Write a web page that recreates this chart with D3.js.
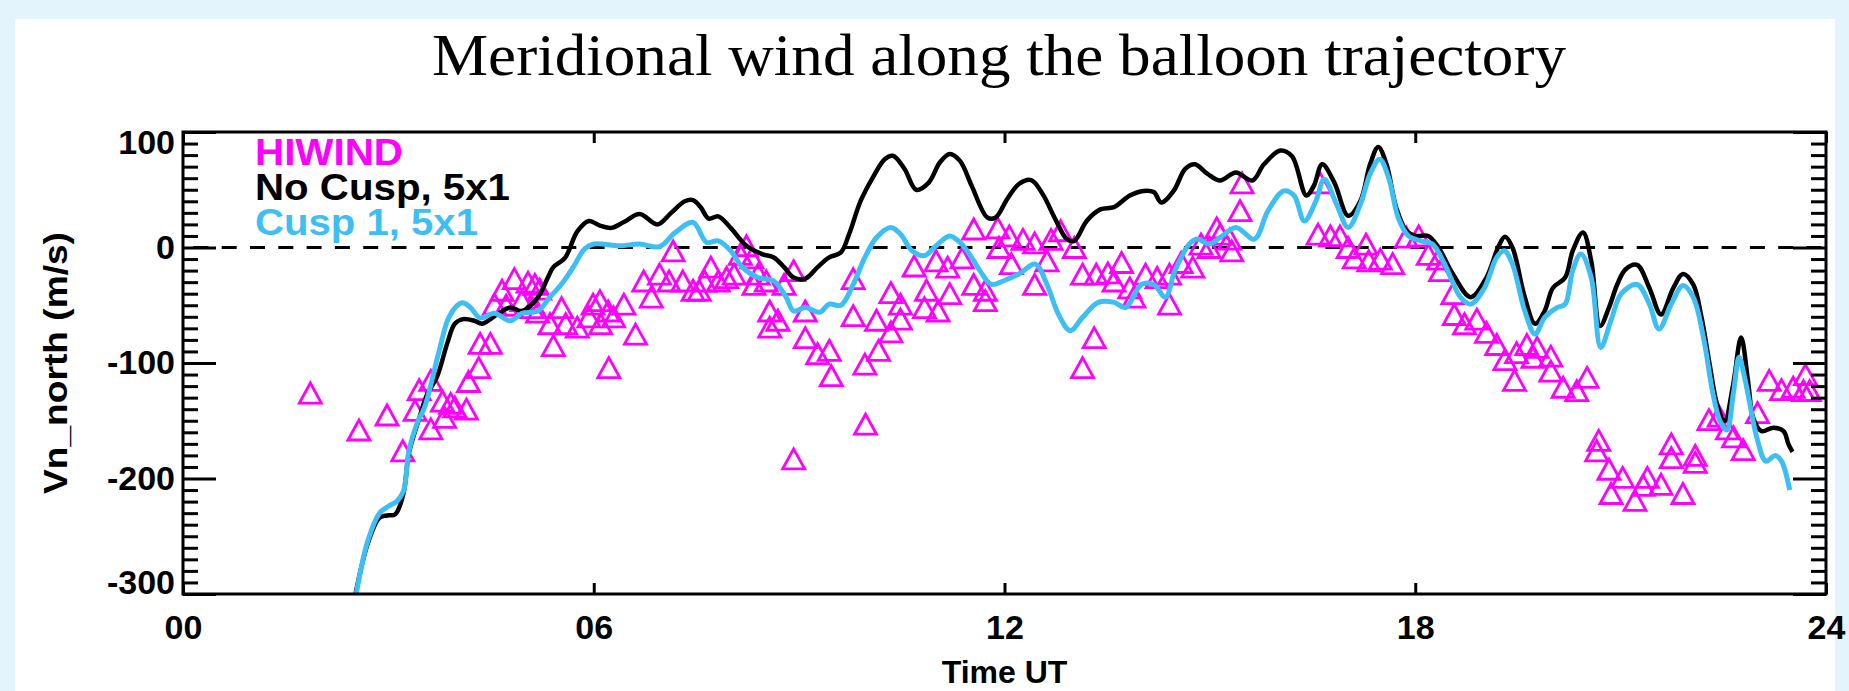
<!DOCTYPE html>
<html><head><meta charset="utf-8">
<script src="https://cdn.jsdelivr.net/npm/d3@7"></script>
<style>body{margin:0;background:#e3f4fc;} svg{display:block}</style>
</head><body>
<svg id="chart" width="1849" height="691"></svg>
<script>
// ---- data (hours UT, m/s) ----
const noCuspTime = [2.52,2.70,2.87,2.98,3.10,3.22,3.30,3.45,3.56,3.71,3.86,3.97,4.09,4.26,4.37,4.60,4.78,4.95,5.18,5.33,5.41,5.58,5.76,5.93,6.09,6.26,6.44,6.67,6.93,7.13,7.33,7.45,7.56,7.68,7.82,8.00,8.23,8.46,8.63,8.78,8.92,9.09,9.27,9.44,9.61,9.73,9.90,10.08,10.25,10.37,10.54,10.71,10.89,11.06,11.20,11.35,11.52,11.75,11.87,12.04,12.21,12.39,12.56,12.73,12.91,13.02,13.20,13.40,13.60,13.83,14.03,14.18,14.29,14.47,14.64,14.78,14.96,15.15,15.38,15.62,15.79,16.03,16.20,16.41,16.52,16.64,16.82,17.02,17.20,17.34,17.46,17.58,17.72,17.87,18.02,18.19,18.34,18.55,18.81,19.04,19.22,19.31,19.42,19.60,19.75,19.89,20.01,20.19,20.30,20.45,20.57,20.70,20.83,20.95,21.07,21.24,21.42,21.59,21.77,21.91,22.06,22.18,22.30,22.41,22.52,22.64,22.76,22.86,22.94,23.06,23.23,23.38,23.45,23.51];
const noCuspWind = [-300,-256,-234,-232,-231,-213,-178,-148,-128,-112,-83,-66,-62,-63.5,-66,-57.5,-52,-55,-43.5,-26,-17,-9,14,23,19,17,22,29,20,30,40,41,35,25,27,17,1.5,-5.7,-8.6,-17,-26,-27,-17,-8.6,-4.3,11.6,40.5,61,76.5,79.4,68,50,56,74,81,75,53.5,26,26,42,55,58.4,46,26,7.3,5.8,23,33,35,45,49,48,39,49,68,72,64,58,65,58,72,84,79,45,53.5,72,56,27.5,40.5,72,87,72,35,14.5,10,10,0,-23,-43,-26,1.5,9.3,0,-43,-66,-55,-35,-26,-3,13,-11.5,-68,-52,-32,-19,-15,-35,-58,-35,-23,-32,-60,-101,-136,-150,-120,-78,-115,-148,-159,-156,-159,-170,-177];
const cuspTime = [2.53,2.70,2.87,3.00,3.12,3.22,3.30,3.42,3.53,3.74,3.88,4.03,4.10,4.20,4.34,4.55,4.78,4.95,5.18,5.36,5.53,5.70,5.87,6.00,6.38,6.67,6.96,7.19,7.45,7.65,7.82,8.00,8.17,8.40,8.63,8.81,8.92,9.09,9.30,9.44,9.61,9.79,9.96,10.13,10.34,10.48,10.65,10.83,11.00,11.20,11.35,11.52,11.64,11.81,11.98,12.21,12.45,12.62,12.79,12.96,13.14,13.37,13.60,13.77,14.00,14.18,14.35,14.49,14.70,14.81,14.99,15.15,15.38,15.65,15.85,16.08,16.23,16.38,16.55,16.67,16.85,17.02,17.20,17.34,17.48,17.61,17.75,17.90,18.08,18.25,18.43,18.66,18.81,19.01,19.19,19.30,19.42,19.60,19.75,19.89,20.07,20.19,20.30,20.42,20.57,20.71,20.86,21.01,21.24,21.42,21.56,21.74,21.91,22.06,22.21,22.35,22.45,22.55,22.65,22.73,22.82,22.88,23.00,23.12,23.26,23.35,23.47];
const cuspWind = [-300,-254,-230,-224,-220,-211,-176,-152,-138,-90,-61,-49,-48,-52,-61,-57,-63.5,-57,-55,-43,-31.6,-17,-1,3,1.5,3,0.7,13,21.7,4.4,5.8,-2.8,-17,-26,-29,-43,-55,-52,-56,-49,-50,-32,-8.6,8.7,17.4,11.6,-2.8,-7,1.5,10,4.4,-8.6,-20,-32,-29,-23,-14.4,-32,-58,-72,-60.5,-47.5,-47.5,-52,-32,-32,-43,-20,3,7.3,3,8.7,17.4,7.3,32,49,45,23,40.5,59,37.6,17.4,37.6,63.6,76.5,60.7,26,10,5.8,3,-14.4,-43,-49,-35,-8.6,-2.8,-14.4,-55,-75,-60.5,-52,-49,-20,-5.7,-26,-86.5,-63,-40,-32,-49,-70.6,-49,-33,-43,-78,-127,-150,-158,-125,-95,-115,-133,-167,-185,-180,-185,-210];
const hiwindTime = [1.86,2.57,2.98,3.21,3.39,3.45,3.62,3.62,3.79,3.82,3.91,3.97,4.14,4.17,4.32,4.34,4.49,4.55,4.66,4.72,4.84,4.95,5.04,5.10,5.14,5.18,5.21,5.36,5.41,5.53,5.59,5.76,5.93,5.99,6.09,6.10,6.21,6.22,6.29,6.44,6.61,6.73,6.84,6.96,7.10,7.16,7.30,7.45,7.54,7.62,7.71,7.82,7.94,8.05,8.14,8.23,8.31,8.34,8.40,8.52,8.57,8.57,8.69,8.78,8.92,8.92,9.09,9.09,9.27,9.44,9.47,9.79,9.79,9.96,9.97,10.13,10.16,10.34,10.34,10.48,10.48,10.68,10.83,10.86,11.00,11.03,11.17,11.20,11.38,11.55,11.55,11.72,11.72,11.90,11.92,12.07,12.10,12.27,12.44,12.44,12.62,12.68,12.82,13.02,13.14,13.14,13.31,13.34,13.51,13.60,13.71,13.83,13.89,14.06,14.23,14.41,14.41,14.58,14.75,14.87,14.99,15.10,15.15,15.29,15.32,15.44,15.47,16.58,16.61,16.76,16.90,17.02,17.11,17.28,17.32,17.49,17.67,17.87,18.05,18.19,18.34,18.37,18.55,18.57,18.72,18.90,19.04,19.19,19.31,19.45,19.48,19.63,19.72,19.78,19.98,19.98,20.16,20.36,20.51,20.65,20.68,20.83,20.86,21.03,21.21,21.33,21.39,21.59,21.74,21.74,21.91,22.09,22.09,22.29,22.44,22.56,22.65,22.79,23.00,23.17,23.35,23.52,23.67,23.70,23.76];
const hiwindWind = [-126,-158,-145,-176,-141,-123,-157,-115,-133,-147,-135,-138,-140,-116,-104,-83,-83,-49,-37,-50,-27,-46,-30,-52,-32,-56,-36,-66,-85,-52,-66,-69,-60,-49,-46,-66,-55,-104,-60,-49,-75,-29,-43,-23,-29,-3,-29,-37,-37,-29,-17,-29,-26,-23,-6,1.5,-9,-32,-23,-29,-55,-69,-63,-32,-20,-183,-55,-78,-92,-89,-111,-27,-59,-101,-153,-63,-89,-39,-73,-49,-62,-16,-52,-37,-11.5,-55,-17,-40,-9,16,-32,-37,-46,17,0,10,-14,7,4,-32,-11.5,7,14.5,0,-23,-104,-78,-23,-22,-29,-13,-35,-43,-23,-26,-23,-49,-13,-17,3,0,17,11.6,7.3,-3,32,56,11.6,56,10,10,0,-9,3,-11.5,-10,-14,9,10,-6,-10,-20,-40,-58,-66,-62,-73.5,-84,-97,-115,-91,-84,-95,-86.5,-94,-107,-121,-124,-112.5,-176,-167,-192,-213,-199,-219,-206,-199,-205,-170,-182,-213,-180,-186,-149,-146,-157,-164,-175,-143,-115,-123,-121,-124,-110,-124];
const xTickValues = [0, 6, 12, 18, 24];
const xTickLabels = ["00", "06", "12", "18", "24"];
const yTickValues = [-300, -200, -100, 0, 100];
const legendLabels = ["HIWIND", "No Cusp, 5x1", "Cusp 1, 5x1"];
const legendColors = ["#ff00ff", "#000000", "#3ebff4"];

// ---- layout ----
const svg = d3.select("#chart");
svg.append("rect").attr("x", 15).attr("y", 19).attr("width", 1820).attr("height", 672).attr("fill", "#ffffff");

const L = 183, R = 1826, T = 132, B = 594;
const x = d3.scaleLinear().domain([0, 24]).range([L, R]);
const y = d3.scaleLinear().domain([-300, 100]).range([B, T]);
const sansBold = "'Liberation Sans', Arial, Helvetica, sans-serif";

// title
svg.append("text").attr("x", 432).attr("y", 75)
  .attr("font-family", "'Liberation Serif', 'Times New Roman', serif")
  .attr("font-size", 60).attr("fill", "#000")
  .attr("textLength", 1134).attr("lengthAdjust", "spacingAndGlyphs")
  .text("Meridional wind along the balloon trajectory");

svg.append("clipPath").attr("id", "clip").append("rect")
  .attr("x", L).attr("y", T).attr("width", R - L).attr("height", B - T);

// zero dashed line
svg.append("line").attr("x1", L).attr("x2", R).attr("y1", y(0)).attr("y2", y(0))
  .attr("stroke", "#000").attr("stroke-width", 3)
  .attr("stroke-dasharray", "15 13.3").attr("stroke-dashoffset", 17.9);

const plot = svg.append("g").attr("clip-path", "url(#clip)");

// HIWIND triangles
const hiwind = hiwindTime.map((t, i) => ({t, v: hiwindWind[i]}));
plot.selectAll("path.tri").data(hiwind).enter().append("path")
  .attr("class", "tri")
  .attr("d", "M0,-10L11,10L-11,10Z")
  .attr("transform", d => `translate(${x(d.t)},${y(d.v)})`)
  .attr("fill", "none").attr("stroke", "#ff00ff").attr("stroke-width", 2.8)
  .attr("stroke-linejoin", "miter");

const line = d3.line().x(d => x(d.t)).y(d => y(d.v)).curve(d3.curveCatmullRom.alpha(0.5));
plot.append("path").datum(noCuspTime.map((t, i) => ({t, v: noCuspWind[i]})))
  .attr("d", line).attr("fill", "none").attr("stroke", "#000").attr("stroke-width", 4.5)
  .attr("stroke-linejoin", "round");
plot.append("path").datum(cuspTime.map((t, i) => ({t, v: cuspWind[i]})))
  .attr("d", line).attr("fill", "none").attr("stroke", "#3ebff4").attr("stroke-width", 5)
  .attr("stroke-linejoin", "round");

// axes
const minorY = d3.range(-300, 101, 10).filter(v => v % 100 !== 0);
function styleAxis(g) {
  g.select(".domain").remove();
  g.selectAll(".tick line").attr("stroke", "#000").attr("stroke-width", 3);
}
svg.append("g").attr("transform", `translate(${L},0)`)
  .call(d3.axisLeft(y).tickValues(minorY).tickSize(-15).tickFormat(""))
  .call(styleAxis);
svg.append("g").attr("transform", `translate(${R},0)`)
  .call(d3.axisRight(y).tickValues(minorY).tickSize(-15).tickFormat(""))
  .call(styleAxis);
svg.append("g").attr("transform", `translate(${R},0)`)
  .call(d3.axisRight(y).tickValues(yTickValues).tickSize(-33).tickFormat(""))
  .call(styleAxis);
const yAxis = svg.append("g").attr("transform", `translate(${L},0)`)
  .call(d3.axisLeft(y).tickValues(yTickValues).tickSize(-33).tickPadding(8).tickFormat(d => String(d)))
  .call(styleAxis);
yAxis.selectAll("text").attr("font-family", sansBold).attr("font-weight", "bold")
  .attr("font-size", 34).attr("fill", "#000")
  .attr("dy", d => d === 100 ? "0.62em" : d === -300 ? "-0.02em" : "0.32em");

const xAxis = svg.append("g").attr("transform", `translate(0,${B})`)
  .call(d3.axisBottom(x).tickValues(xTickValues).tickSize(-11).tickPadding(21)
    .tickFormat((d, i) => xTickLabels[i]))
  .call(styleAxis);
xAxis.selectAll("text").attr("font-family", sansBold).attr("font-weight", "bold")
  .attr("font-size", 34).attr("fill", "#000");
svg.append("g").attr("transform", `translate(0,${T})`)
  .call(d3.axisTop(x).tickValues(xTickValues).tickSize(-11).tickFormat(""))
  .call(styleAxis);

// frame
svg.append("rect").attr("x", L).attr("y", T).attr("width", R - L).attr("height", B - T)
  .attr("fill", "none").attr("stroke", "#000").attr("stroke-width", 3);

// axis titles
svg.append("text").attr("x", (L + R) / 2).attr("y", 683).attr("text-anchor", "middle")
  .attr("font-family", sansBold).attr("font-weight", "bold").attr("font-size", 32)
  .text("Time UT");
svg.append("text").attr("transform", `translate(67,${(T + B) / 2}) rotate(-90)`)
  .attr("text-anchor", "middle")
  .attr("font-family", sansBold).attr("font-weight", "bold").attr("font-size", 34)
  .attr("textLength", 262).attr("lengthAdjust", "spacingAndGlyphs")
  .text("Vn_north (m/s)");

// legend
const legendWidths = [148, 255, 223];
svg.selectAll("text.legend").data(legendLabels).enter().append("text")
  .attr("class", "legend")
  .attr("x", 255).attr("y", (d, i) => 165 + i * 35)
  .attr("font-family", sansBold).attr("font-weight", "bold").attr("font-size", 36)
  .attr("fill", (d, i) => legendColors[i])
  .attr("textLength", (d, i) => legendWidths[i]).attr("lengthAdjust", "spacingAndGlyphs")
  .text(d => d);
</script>
</body></html>
